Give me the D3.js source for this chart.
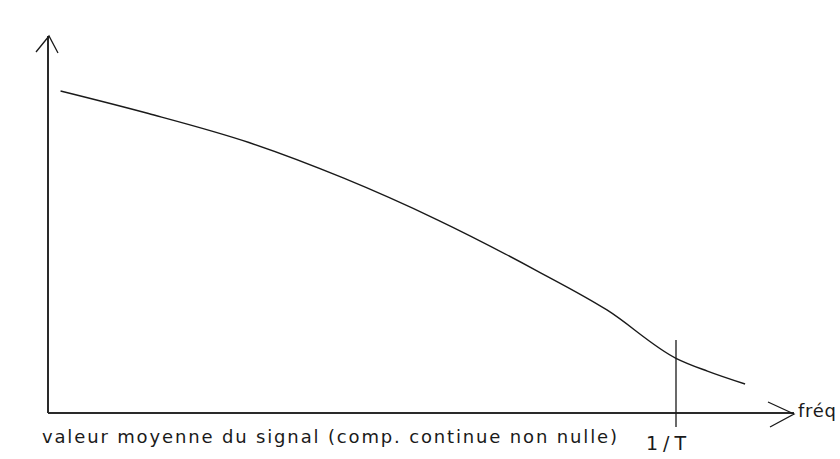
<!DOCTYPE html>
<html>
<head>
<meta charset="utf-8">
<script src="https://cdn.jsdelivr.net/npm/d3@7"></script>
<style>
  body { margin: 0; background: #fff; }
  text { font-family: "DejaVu Sans", sans-serif; fill: #1a1a1a; }
</style>
</head>
<body>
<script>
// Frequency (in units of 1/T) and relative amplitude
var freq = [0.02, 0.16, 0.32, 0.47, 0.62, 0.78, 0.89, 1.00, 1.05, 1.11];
var amp  = [1.00, 0.93, 0.84, 0.73, 0.60, 0.44, 0.32, 0.17, 0.13, 0.09];

// Labels
var xLabel = "fréq";
var markLabel = "1/T";
var markFreq = 1;
var caption = "valeur moyenne du signal (comp. continue non nulle)";

var width = 840, height = 459;

var svg = d3.select("body").append("svg")
    .attr("width", width)
    .attr("height", height);

// f = 0 at the y axis, 1/T at the marker line
var x = d3.scaleLinear()
    .domain([0, 1])
    .range([48, 676]);

// amplitude 0 on the x axis
var y = d3.scaleLinear()
    .domain([0, 1])
    .range([413, 91]);

var data = freq.map(function(f, i) { return {f: f, a: amp[i]}; });

var line = d3.line()
    .x(function(d) { return x(d.f); })
    .y(function(d) { return y(d.a); })
    .curve(d3.curveMonotoneX);

// axes with hand-drawn arrow heads
var x0 = x(0), y0 = y(0);
var xEnd = 794, yEnd = 36;

svg.append("line")
    .attr("x1", x0).attr("y1", y0)
    .attr("x2", xEnd).attr("y2", y0)
    .attr("stroke", "#2a2a2a").attr("stroke-width", 2);

svg.append("line")
    .attr("x1", x0).attr("y1", y0)
    .attr("x2", x0).attr("y2", yEnd)
    .attr("stroke", "#2a2a2a").attr("stroke-width", 2);

svg.append("path")
    .attr("d", "M" + (xEnd - 26) + "," + (y0 - 11) + "L" + xEnd + "," + (y0 + 1) + "L" + (xEnd - 24) + "," + (y0 + 14))
    .attr("fill", "none").attr("stroke", "#1a1a1a").attr("stroke-width", 1.3);

svg.append("path")
    .attr("d", "M" + (x0 - 12) + "," + (yEnd + 16) + "L" + (x0 + 1) + "," + yEnd + "L" + (x0 + 10) + "," + (yEnd + 17))
    .attr("fill", "none").attr("stroke", "#1a1a1a").attr("stroke-width", 1.3);

// 1/T marker
svg.append("line")
    .attr("x1", x(markFreq)).attr("y1", 340)
    .attr("x2", x(markFreq)).attr("y2", 427)
    .attr("stroke", "#1a1a1a").attr("stroke-width", 1.3);

// spectrum curve
svg.append("path")
    .datum(data)
    .attr("d", line)
    .attr("fill", "none")
    .attr("stroke", "#1a1a1a")
    .attr("stroke-width", 1.4);

svg.append("text")
    .attr("x", 798).attr("y", 417)
    .style("font-size", "18px")
    .attr("textLength", 38)
    .attr("lengthAdjust", "spacing")
    .text(xLabel);

svg.append("text")
    .attr("x", x(markFreq) - 30).attr("y", 450)
    .style("font-size", "19px")
    .attr("textLength", 40)
    .attr("lengthAdjust", "spacing")
    .text(markLabel);

svg.append("text")
    .attr("x", 42).attr("y", 443)
    .style("font-size", "18px")
    .attr("textLength", 575)
    .attr("lengthAdjust", "spacing")
    .text(caption);
</script>
</body>
</html>
